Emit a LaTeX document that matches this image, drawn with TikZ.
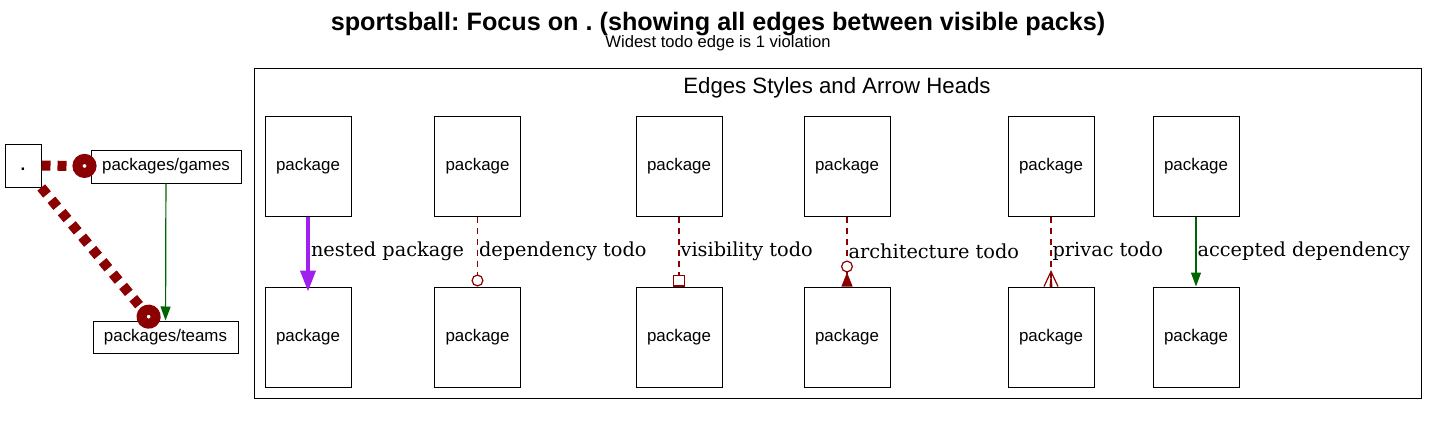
\documentclass[tikz,border=0pt]{standalone}
\usepackage{fontspec}
\setmainfont{Liberation Sans}
\newfontfamily\edgefont{DejaVu Serif}
\usetikzlibrary{arrows.meta}
\definecolor{todored}{HTML}{8B0000}
\definecolor{nestpurple}{HTML}{A020F0}
\definecolor{okgreen}{HTML}{006400}
\frenchspacing

% crow's foot tip, line runs through to the end
\pgfdeclarearrow{
  name=Crow,
  setup code={\pgfarrowssettipend{0pt}\pgfarrowssetlineend{0pt}\pgfarrowssetbackend{-15pt}},
  drawing code={
    \pgfsetdash{}{0pt}
    \pgfsetmiterjoin
    \pgfpathmoveto{\pgfqpoint{0pt}{7pt}}
    \pgfpathlineto{\pgfqpoint{-15pt}{0pt}}
    \pgfpathlineto{\pgfqpoint{0pt}{-7pt}}
    \pgfusepathqstroke
    \pgfpathmoveto{\pgfqpoint{0pt}{1.5pt}}
    \pgfpathlineto{\pgfqpoint{-15pt}{0pt}}
    \pgfpathlineto{\pgfqpoint{0pt}{-1.5pt}}
    \pgfpathclose
    \pgfusepathqfill
  }
}

\begin{document}
\begin{tikzpicture}[auto, x=1pt, y=-1pt, line width=1pt,
    todo/.style={todored, line width=1.2pt, dash pattern=on 6pt off 5pt},
    bigtodo/.style={todored, line width=10pt, dash pattern=on 9pt off 7pt,
        -{Circle[open,length=24pt,width=24pt]}},
    pack/.style={draw=black, inner sep=0pt, font=\fontsize{16.9}{20}\selectfont}]
    \useasboundingbox[fill=white] (0,0) rectangle (1438,444);
    \node (title) at (718,31) [anchor=base, font=\fontsize{25.2}{30}\selectfont\bfseries]
        {sportsball: Focus on . (showing all edges between visible packs)};
    \node (subtitle) at (718,48) [anchor=base, font=\fontsize{16.6}{20}\selectfont]
        {Widest todo edge is 1 violation};

    % left part
    \node (dot) at (23,165.5) [pack, minimum width=36pt, minimum height=43pt,
        text height=14pt, text depth=4pt, font=\fontsize{16.9}{20}\selectfont\bfseries] {.};
    \node (games) at (166,166.5) [pack, minimum width=150pt, minimum height=33pt] {packages/games};
    \node (teams) at (165.5,337) [pack, minimum width=145pt, minimum height=32pt] {packages/teams};
    \draw (games) edge [-{Triangle[length=14pt,width=10pt]}, okgreen, line width=1.2pt] (teams);
    \draw (dot) edge [bigtodo, shorten >=-6pt] (games);
    \draw (dot) edge [bigtodo, shorten >=-7pt] (teams);

    % legend
    \draw (254,69) rectangle (1421,398);
    \node (legend) at (837,93) [anchor=base, font=\fontsize{22.2}{26}\selectfont]
        {Edges Styles and Arrow Heads};
    \begin{scope}[every node/.style={pack, minimum width=86pt, minimum height=100pt}]
        \node (a1) at (308,166) {package};
        \node (a2) at (477.5,166) {package};
        \node (a3) at (679,166) {package};
        \node (a4) at (847,166) {package};
        \node (a5) at (1051,166) {package};
        \node (a6) at (1196,166) {package};
        \node (b1) at (308,337) {package};
        \node (b2) at (477.5,337) {package};
        \node (b3) at (679,337) {package};
        \node (b4) at (847,337) {package};
        \node (b5) at (1051,337) {package};
        \node (b6) at (1196,337) {package};
    \end{scope}
    \begin{scope}[every node/.style={inner sep=1pt, text=black, font=\edgefont\fontsize{19.3}{23}\selectfont}]
        \draw (a1) edge [-{Triangle[length=21pt,width=15pt]}, nestpurple, line width=4pt, shorten >=-5pt] node{nested package} (b1);
        \draw (a2) edge [-{Circle[open,length=12pt,width=12pt]}, todo] node{dependency todo} (b2);
        \draw (a3) edge [-{Square[open,length=12pt,width=12pt]}, todo] node{visibility todo} (b3);
        \draw (a4) edge [-{Circle[length=12pt,width=12pt,sep=0pt,fill=white] Triangle[reversed,length=14pt,width=11pt]}, todo] node{architecture todo} (b4);
        \draw (a5) edge [-Crow, todo] node{privac todo} (b5);
        \draw (a6) edge [-{Triangle[length=14pt,width=10pt]}, okgreen, line width=1.2pt] node{accepted dependency} (b6);
    \end{scope}
\end{tikzpicture}
\end{document}
